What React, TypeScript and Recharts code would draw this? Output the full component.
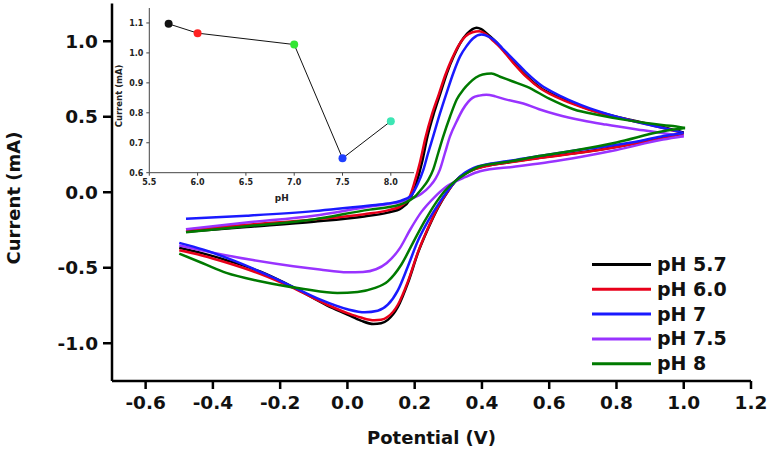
import React from 'react';
import { LineChart, Line, XAxis, YAxis } from 'recharts';

// ---------- Main CV data: [potential V, current mA] ----------
const ph57Forward = [
  [-0.48, -0.262], [-0.3, -0.23], [-0.1, -0.195], [0.05, -0.16], [0.12, -0.135], [0.16, -0.105],
  [0.185, -0.05], [0.205, 0.06], [0.222, 0.2], [0.238, 0.37], [0.258, 0.53], [0.277, 0.66],
  [0.296, 0.79], [0.316, 0.9], [0.336, 0.99], [0.356, 1.05], [0.372, 1.08], [0.384, 1.089],
  [0.398, 1.08], [0.415, 1.05], [0.435, 1.01], [0.454, 0.967], [0.49, 0.87], [0.533, 0.768],
  [0.575, 0.69], [0.622, 0.636], [0.67, 0.59], [0.721, 0.548], [0.8, 0.5], [0.87, 0.465],
  [0.94, 0.43], [1.0, 0.395],
];
const ph57Reverse = [
  [-0.5, -0.368], [-0.43, -0.405], [-0.36, -0.45], [-0.26, -0.525], [-0.16, -0.63], [-0.06, -0.75],
  [0.0, -0.81], [0.04, -0.85], [0.077, -0.873], [0.1, -0.868], [0.12, -0.845], [0.15, -0.76],
  [0.18, -0.6], [0.21, -0.4], [0.24, -0.24], [0.27, -0.1], [0.3, 0.01], [0.324, 0.08],
  [0.35, 0.125], [0.374, 0.15], [0.42, 0.178], [0.473, 0.196], [0.57, 0.228], [0.672, 0.258],
  [0.77, 0.29], [0.87, 0.33], [0.94, 0.362], [1.0, 0.395],
];
const ph60Forward = [
  [-0.48, -0.248], [-0.3, -0.215], [-0.1, -0.18], [0.05, -0.145], [0.12, -0.12], [0.16, -0.09],
  [0.183, -0.04], [0.2, 0.07], [0.216, 0.2], [0.232, 0.36], [0.252, 0.52], [0.272, 0.65],
  [0.29, 0.77], [0.31, 0.88], [0.33, 0.97], [0.35, 1.03], [0.372, 1.06], [0.392, 1.066],
  [0.41, 1.05], [0.43, 1.01], [0.454, 0.96], [0.49, 0.865], [0.533, 0.762], [0.575, 0.685],
  [0.622, 0.63], [0.67, 0.585], [0.721, 0.545], [0.8, 0.498], [0.87, 0.462], [0.94, 0.425],
  [1.0, 0.39],
];
const ph60Reverse = [
  [-0.5, -0.384], [-0.43, -0.42], [-0.36, -0.465], [-0.26, -0.54], [-0.16, -0.635], [-0.06, -0.745],
  [0.0, -0.8], [0.04, -0.83], [0.08, -0.848], [0.1, -0.845], [0.12, -0.825], [0.15, -0.745],
  [0.18, -0.59], [0.21, -0.395], [0.24, -0.235], [0.27, -0.095], [0.3, 0.01], [0.324, 0.08],
  [0.35, 0.122], [0.374, 0.148], [0.42, 0.176], [0.473, 0.195], [0.57, 0.226], [0.672, 0.256],
  [0.77, 0.288], [0.87, 0.328], [0.94, 0.358], [1.0, 0.39],
];
const ph70Forward = [
  [-0.48, -0.176], [-0.3, -0.155], [-0.1, -0.125], [0.067, -0.088], [0.12, -0.075], [0.16, -0.055],
  [0.19, -0.02], [0.21, 0.06], [0.226, 0.15], [0.24, 0.26], [0.255, 0.37], [0.275, 0.52],
  [0.295, 0.658], [0.315, 0.79], [0.335, 0.9], [0.355, 0.97], [0.374, 1.02], [0.399, 1.044],
  [0.42, 1.03], [0.44, 1.0], [0.46, 0.955], [0.5, 0.865], [0.533, 0.79], [0.575, 0.71],
  [0.622, 0.65], [0.67, 0.6], [0.721, 0.555], [0.8, 0.5], [0.87, 0.46], [0.94, 0.425],
  [1.0, 0.393],
];
const ph70Reverse = [
  [-0.5, -0.335], [-0.428, -0.38], [-0.33, -0.46], [-0.23, -0.556], [-0.15, -0.64], [-0.082, -0.71],
  [0.0, -0.775], [0.052, -0.795], [0.09, -0.785], [0.12, -0.745], [0.15, -0.65], [0.18, -0.49],
  [0.21, -0.32], [0.24, -0.19], [0.27, -0.08], [0.3, 0.015], [0.324, 0.08], [0.35, 0.13],
  [0.374, 0.16], [0.42, 0.188], [0.473, 0.205], [0.57, 0.24], [0.672, 0.275], [0.77, 0.305],
  [0.87, 0.34], [0.94, 0.372], [1.0, 0.393],
];
const ph75Forward = [
  [-0.48, -0.245], [-0.3, -0.2], [-0.1, -0.155], [0.067, -0.095], [0.13, -0.075], [0.18, -0.05],
  [0.22, -0.01], [0.245, 0.04], [0.262, 0.09], [0.275, 0.15], [0.29, 0.26], [0.305, 0.37],
  [0.325, 0.47], [0.343, 0.548], [0.372, 0.625], [0.392, 0.64], [0.413, 0.645], [0.44, 0.635],
  [0.47, 0.615], [0.523, 0.588], [0.57, 0.55], [0.622, 0.515], [0.7, 0.475], [0.769, 0.448],
  [0.88, 0.41], [1.0, 0.371],
];
const ph75Reverse = [
  [-0.5, -0.353], [-0.4, -0.4], [-0.29, -0.446], [-0.161, -0.49], [-0.082, -0.512], [0.0, -0.53],
  [0.046, -0.528], [0.085, -0.51], [0.117, -0.468], [0.156, -0.37], [0.186, -0.25], [0.22, -0.13],
  [0.26, -0.03], [0.29, 0.03], [0.32, 0.07], [0.35, 0.1], [0.394, 0.139], [0.5, 0.17],
  [0.6, 0.2], [0.692, 0.234], [0.8, 0.28], [0.938, 0.349], [1.0, 0.371],
];
const ph80Forward = [
  [-0.48, -0.265], [-0.3, -0.225], [-0.1, -0.18], [0.067, -0.115], [0.12, -0.1], [0.17, -0.07],
  [0.2, -0.03], [0.22, 0.02], [0.24, 0.08], [0.255, 0.15], [0.27, 0.26], [0.285, 0.37],
  [0.305, 0.5], [0.325, 0.614], [0.345, 0.68], [0.363, 0.724], [0.382, 0.76], [0.402, 0.78],
  [0.428, 0.786], [0.454, 0.765], [0.49, 0.735], [0.533, 0.7], [0.6, 0.62], [0.672, 0.55],
  [0.75, 0.51], [0.821, 0.481], [0.9, 0.455], [0.96, 0.44], [1.004, 0.426],
];
const ph80Reverse = [
  [-0.5, -0.406], [-0.43, -0.47], [-0.36, -0.534], [-0.26, -0.589], [-0.13, -0.64], [-0.03, -0.667],
  [0.03, -0.66], [0.08, -0.635], [0.12, -0.59], [0.16, -0.48], [0.196, -0.33], [0.23, -0.19],
  [0.26, -0.08], [0.29, 0.01], [0.32, 0.073], [0.35, 0.12], [0.394, 0.172], [0.473, 0.2],
  [0.57, 0.24], [0.692, 0.283], [0.8, 0.33], [0.938, 0.404], [1.004, 0.426],
];

const seriesNames = ['pH 5.7', 'pH 6.0', 'pH 7', 'pH 7.5', 'pH 8'];
const seriesColors = ['#000000', '#e8001a', '#1a1aff', '#9933ff', '#007a00'];
const seriesForward = [ph57Forward, ph60Forward, ph70Forward, ph75Forward, ph80Forward];
const seriesReverse = [ph57Reverse, ph60Reverse, ph70Reverse, ph75Reverse, ph80Reverse];
const drawOrder = [0, 1, 3, 2, 4];

const xTicks = [-0.6, -0.4, -0.2, 0.0, 0.2, 0.4, 0.6, 0.8, 1.0, 1.2];
const yTicks = [-1.0, -0.5, 0.0, 0.5, 1.0];

// ---------- Inset data ----------
const insetPH = [5.7, 6.0, 7.0, 7.5, 8.0];
const insetCurrent = [1.097, 1.066, 1.028, 0.648, 0.772];
const insetColors = ['#111111', '#ff2222', '#33e633', '#1f3fff', '#3de6b4'];
const insetXTicks = [5.5, 6.0, 6.5, 7.0, 7.5, 8.0];
const insetYTicks = [0.6, 0.7, 0.8, 0.9, 1.0, 1.1];

const toPts = (arr: number[][]) => arr.map(([v, i]) => ({ v, i }));
const insetData = insetPH.map((ph, k) => ({ ph, cur: insetCurrent[k], color: insetColors[k] }));

const FONT = "'DejaVu Sans', sans-serif";
const W = 770;
const H = 450;

export default function App() {
  const axisStroke = { stroke: '#000', strokeWidth: 2.5 };
  const tickStyle = { fontFamily: FONT, fontWeight: 700, fontSize: 18.5, fill: '#111' };
  const insetTick = { fontFamily: FONT, fontWeight: 700, fontSize: 8, fill: '#222' };

  return (
    <div style={{ position: 'absolute', left: 0, top: 0, width: W, height: H, background: '#fff' }}>
      <div style={{ position: 'absolute', left: 0, top: 0 }}>
        <LineChart width={W} height={H} margin={{ top: 3.5, right: 19, bottom: 39, left: 52 }}>
          <XAxis
            type="number"
            dataKey="v"
            domain={[-0.7, 1.2]}
            ticks={xTicks}
            allowDataOverflow
            height={30}
            tickSize={8}
            tickMargin={7}
            axisLine={axisStroke}
            tickLine={axisStroke}
            tick={tickStyle}
            tickFormatter={(t: number) => t.toFixed(1)}
            label={() => (
              <text x={431.5} y={443.5} textAnchor="middle" fontFamily={FONT} fontWeight={700} fontSize={18} fill="#111">
                Potential (V)
              </text>
            )}
          />
          <XAxis
            xAxisId="top"
            orientation="top"
            type="number"
            domain={[-0.7, 1.2]}
            height={0}
            tick={false}
            tickLine={false}
            axisLine={axisStroke}
          />
          <YAxis
            type="number"
            domain={[-1.25, 1.25]}
            ticks={yTicks}
            allowDataOverflow
            width={60}
            tickSize={9}
            tickMargin={5}
            axisLine={axisStroke}
            tickLine={axisStroke}
            tick={tickStyle}
            tickFormatter={(t: number) => t.toFixed(1)}
            label={() => (
              <text
                transform="translate(20,198) rotate(-90)"
                textAnchor="middle"
                fontFamily={FONT}
                fontWeight={700}
                fontSize={18}
                fill="#111"
              >
                Current (mA)
              </text>
            )}
          />
          <YAxis
            yAxisId="right"
            orientation="right"
            type="number"
            domain={[-1.25, 1.25]}
            width={0}
            tick={false}
            tickLine={false}
            axisLine={axisStroke}
          />
          {drawOrder.map((k) => (
            <Line
              key={'f' + k}
              data={toPts(seriesForward[k])}
              dataKey="i"
              type="monotone"
              stroke={seriesColors[k]}
              strokeWidth={2.5}
              dot={false}
              isAnimationActive={false}
            />
          ))}
          {drawOrder.map((k) => (
            <Line
              key={'r' + k}
              data={toPts(seriesReverse[k])}
              dataKey="i"
              type="monotone"
              stroke={seriesColors[k]}
              strokeWidth={2.5}
              dot={false}
              isAnimationActive={false}
            />
          ))}
        </LineChart>
      </div>

      {/* Inset */}
      <div style={{ position: 'absolute', left: 0, top: 0 }}>
        <LineChart width={430} height={210} data={insetData} margin={{ top: 8, right: 16, bottom: 17.3, left: 109.3 }}>
          <XAxis
            type="number"
            dataKey="ph"
            domain={[5.5, 8.24]}
            ticks={insetXTicks}
            allowDataOverflow
            height={20}
            tickSize={3}
            tickMargin={4}
            axisLine={{ stroke: '#444', strokeWidth: 1 }}
            tickLine={{ stroke: '#444', strokeWidth: 1 }}
            tick={insetTick}
            tickFormatter={(t: number) => t.toFixed(1)}
            label={() => (
              <text x={281.7} y={201} textAnchor="middle" fontFamily={FONT} fontWeight={700} fontSize={9} fill="#222">
                pH
              </text>
            )}
          />
          <XAxis
            xAxisId="top"
            orientation="top"
            type="number"
            domain={[5.5, 8.24]}
            height={0}
            tick={false}
            tickLine={false}
            axisLine={{ stroke: '#444', strokeWidth: 1 }}
          />
          <YAxis
            type="number"
            domain={[0.6, 1.15]}
            ticks={insetYTicks}
            allowDataOverflow
            width={40}
            tickSize={3}
            tickMargin={3}
            axisLine={{ stroke: '#444', strokeWidth: 1 }}
            tickLine={{ stroke: '#444', strokeWidth: 1 }}
            tick={insetTick}
            tickFormatter={(t: number) => t.toFixed(1)}
            label={() => (
              <text
                transform="translate(122,96) rotate(-90)"
                textAnchor="middle"
                fontFamily={FONT}
                fontWeight={700}
                fontSize={8.5}
                fill="#222"
              >
                Current (mA)
              </text>
            )}
          />
          <YAxis
            yAxisId="right"
            orientation="right"
            type="number"
            domain={[0.6, 1.15]}
            width={0}
            tick={false}
            tickLine={false}
            axisLine={{ stroke: '#444', strokeWidth: 1 }}
          />
          <Line
            dataKey="cur"
            type="linear"
            stroke="#111"
            strokeWidth={1}
            isAnimationActive={false}
            dot={(p: any) => (
              <circle key={'d' + p.index} cx={p.cx} cy={p.cy} r={4} fill={p.payload.color} stroke="none" />
            )}
          />
        </LineChart>
      </div>

      {/* Legend */}
      <svg style={{ position: 'absolute', left: 0, top: 0 }} width={W} height={H} pointerEvents="none">
        {seriesNames.map((name, k) => {
          const y = 264.5 + k * 24.8;
          return (
            <g key={name}>
              <line x1={592} x2={651} y1={y} y2={y} stroke={seriesColors[k]} strokeWidth={3} />
              <text x={657} y={y + 6.5} fontFamily={FONT} fontWeight={700} fontSize={19} fill="#111">
                {name}
              </text>
            </g>
          );
        })}
      </svg>
    </div>
  );
}
